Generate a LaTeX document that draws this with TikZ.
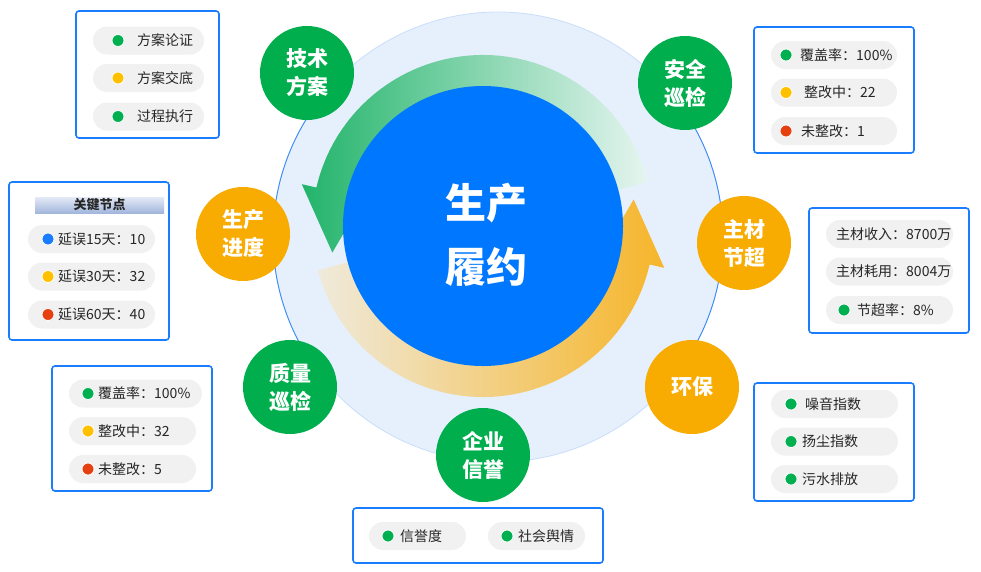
\documentclass[tikz,border=0pt]{standalone}
\usepackage{fontspec}
\setmainfont{Noto Sans CJK SC}
\usetikzlibrary{calc}
\definecolor{boxblue}{HTML}{1A7CFF}
\definecolor{pillgray}{HTML}{F1F1F1}
\definecolor{txt}{HTML}{262626}
\definecolor{gdot}{HTML}{00B050}
\definecolor{ydot}{HTML}{FFC000}
\definecolor{rdot}{HTML}{E64010}
\definecolor{bdot}{HTML}{1A7CFF}
\definecolor{satgreen}{HTML}{00AE4E}
\definecolor{satorange}{HTML}{F8AB00}
\definecolor{cblue}{HTML}{0077FF}
\definecolor{gA}{HTML}{22B46A}
\definecolor{gB}{HTML}{9CDFBD}
\definecolor{gC}{HTML}{E6F5F0}
\definecolor{oA}{HTML}{EFEADB}
\definecolor{oB}{HTML}{F8DA8E}
\definecolor{oC}{HTML}{F6B52A}
\definecolor{bgA}{HTML}{E6F0FC}
\definecolor{bgB}{HTML}{F9FBFF}
\definecolor{bordA}{HTML}{C9DEFB}
\definecolor{bordB}{HTML}{3A8BF5}
\definecolor{hdrtop}{HTML}{E4EAF6}
\definecolor{hdrbot}{HTML}{A3B6DC}
\definecolor{shd}{HTML}{F4F5F7}
\newcommand{\prow}[8]{%
  \node[pill, minimum width=#4pt] (#1) at (#2,#3) {};
  \node[dot, fill=#6] (#1d) at (#5,#3) {};
  \node[lbl] (#1t) at (#7,#3) {#8};
}
\begin{document}
\begin{tikzpicture}[x=1pt,y=-1pt,
  box/.style={draw=boxblue, line width=1.6pt, rounded corners=3pt, fill=white},
  pill/.style={fill=pillgray, rounded corners=14pt, minimum height=28pt, inner sep=0pt},
  dot/.style={circle, draw=white, line width=0.8pt, minimum size=12pt, inner sep=0pt},
  lbl/.style={anchor=west, inner sep=0pt, font=\fontsize{14}{16}\selectfont, text=txt},
  sat/.style={circle, minimum size=94pt, inner sep=0pt, text=white, align=center,
    font=\fontsize{21}{28}\selectfont\bfseries},
]
\useasboundingbox (0,0) rectangle (981,571);
\fill[white] (0,0) rectangle (981,571);

% background circle
\coordinate (O) at (498,237);
\shade[left color=bgA, middle color=bgB, right color=bgA] (O) circle[radius=225pt];
\draw[line width=0.8pt, draw=bordA] (O) circle[radius=225pt];
\draw[line width=0.9pt, draw=bordB] ($(O)+(137:225pt)$) arc[start angle=137, end angle=222, radius=225pt];
\draw[line width=0.9pt, draw=bordB] ($(O)+(-40:225pt)$) arc[start angle=-40, end angle=46, radius=225pt];

% ring arrows
\coordinate (C) at (483,226);
\shade[left color=gA, middle color=gB, right color=gC]
  ($(C)+(15:171pt)$) arc[start angle=15, end angle=167, radius=171pt]
  -- ($(C)+(167:186pt)$) -- ($(C)+(190:153pt)$) -- ($(C)+(167:122pt)$)
  -- ($(C)+(167:138pt)$) arc[start angle=167, end angle=15, radius=138pt] -- cycle;
\shade[left color=oA, middle color=oB, right color=oC]
  ($(C)+(195:171pt)$) arc[start angle=195, end angle=347, radius=171pt]
  -- ($(C)+(347:186pt)$) -- ($(C)+(10:153pt)$) -- ($(C)+(347:122pt)$)
  -- ($(C)+(347:138pt)$) arc[start angle=347, end angle=195, radius=138pt] -- cycle;

% center
\node[circle, fill=cblue, minimum size=280pt, inner sep=0pt] (center) at (C) {};
\node[text=white, align=center, font=\fontsize{41}{64}\selectfont\bfseries] (ct) at (486,235) {生产\\履约};

% satellites
\node[sat, fill=satgreen] (s1) at (307,73) {技术\\方案};
\node[sat, fill=satgreen] (s2) at (685,83) {安全\\巡检};
\node[sat, fill=satorange] (s3) at (243,234) {生产\\进度};
\node[sat, fill=satorange] (s4) at (744,243) {主材\\节超};
\node[sat, fill=satgreen] (s5) at (290,387) {质量\\巡检};
\node[sat, fill=satorange] (s6) at (692,387) {环保};
\node[sat, fill=satgreen] (s7) at (483,455) {企业\\信誉};

% box 1 (top-left)
\node[box, minimum width=143pt, minimum height=127pt] (b1) at (147.5,74.5) {};
\prow{b1a}{148.5}{40.5}{111}{118}{gdot}{137}{方案论证}
\prow{b1b}{148.5}{78}{111}{118}{ydot}{137}{方案交底}
\prow{b1c}{148.5}{116.5}{111}{118}{gdot}{137}{过程执行}

% box 2 (top-right)
\node[box, minimum width=160pt, minimum height=126pt] (b2) at (834,90) {};
\prow{b2a}{834}{55}{126}{786}{gdot}{800}{覆盖率：100\%}
\prow{b2b}{834}{92.5}{126}{786}{ydot}{804}{整改中：22}
\prow{b2c}{834}{131}{126}{786}{rdot}{801}{未整改：1}

% box 3 (left)
\node[box, minimum width=160pt, minimum height=158pt] (b3) at (89,261) {};
\node[minimum width=129pt, minimum height=16pt, inner sep=0pt, top color=hdrtop, bottom color=hdrbot] (hdr) at (99.5,205) {};
\node[font=\fontsize{13}{15}\selectfont\bfseries, text=txt, inner sep=0pt] (hdrt) at (hdr) {关键节点};
\prow{b3a}{91.5}{239}{127}{48}{bdot}{58}{延误15天：10}
\prow{b3b}{91.5}{276.5}{127}{48}{ydot}{58}{延误30天：32}
\prow{b3c}{91.5}{314.5}{127}{48}{rdot}{58}{延误60天：40}

% box 4 (right-middle)
\node[box, minimum width=160pt, minimum height=125pt] (b4) at (889,270.5) {};
\node[pill, minimum width=127pt] (b4a) at (889.5,234) {};
\node[lbl] (b4at) at (836,234) {主材收入：8700万};
\node[pill, minimum width=127pt] (b4b) at (889.5,271.5) {};
\node[lbl] (b4bt) at (836,271.5) {主材耗用：8004万};
\prow{b4c}{889.5}{310}{127}{844}{gdot}{857}{节超率：8\%}

% box 5 (left-bottom)
\node[box, minimum width=160pt, minimum height=125pt] (b5) at (132,428.5) {};
\prow{b5a}{135.5}{393.5}{133}{88}{gdot}{98}{覆盖率：100\%}
\prow{b5b}{132.5}{431}{127}{88}{ydot}{98}{整改中：32}
\prow{b5c}{132.5}{469}{127}{88}{rdot}{98}{未整改：5}

% box 6 (right-bottom)
\node[box, minimum width=160pt, minimum height=118pt] (b6) at (834,442) {};
\prow{b6a}{834.5}{404}{127}{791}{gdot}{805}{噪音指数}
\prow{b6b}{834.5}{441.5}{127}{791}{gdot}{802}{扬尘指数}
\prow{b6c}{834.5}{479}{127}{791}{gdot}{802}{污水排放}

% box 7 (bottom)
\node[box, minimum width=250pt, minimum height=55pt] (b7) at (478,535.5) {};
\prow{b7a}{417.5}{536}{97}{388}{gdot}{400}{信誉度}
\prow{b7b}{536.5}{536}{97}{507}{gdot}{518}{社会舆情}
\end{tikzpicture}
\end{document}
